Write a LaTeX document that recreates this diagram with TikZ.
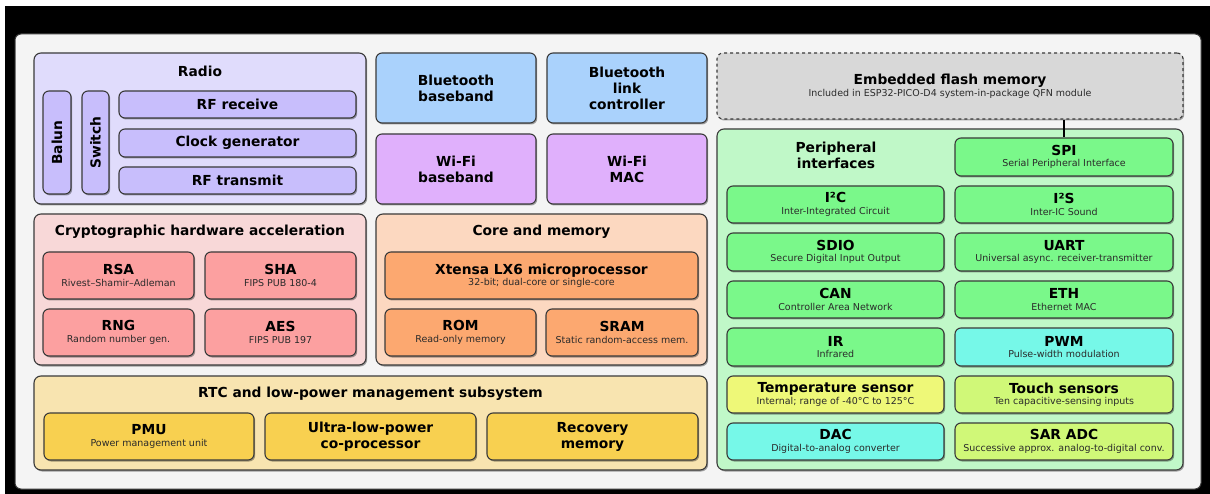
\documentclass[tikz,border=0pt]{standalone}
\usepackage{fontspec}
\setmainfont{DejaVu Sans}
\usetikzlibrary{shadows}
\definecolor{edge}{HTML}{3A3A3A}
\definecolor{subc}{HTML}{2A2A2A}
\definecolor{panel}{HTML}{F4F4F4}
\definecolor{radioO}{HTML}{E0DCFC}
\definecolor{radioI}{HTML}{C8BEFC}
\definecolor{btC}{HTML}{AAD2FC}
\definecolor{wifiC}{HTML}{E0B0FC}
\definecolor{cryO}{HTML}{F8D8D8}
\definecolor{cryI}{HTML}{FCA0A0}
\definecolor{coreO}{HTML}{FCD8C0}
\definecolor{coreI}{HTML}{FCA870}
\definecolor{rtcO}{HTML}{F8E4B0}
\definecolor{rtcI}{HTML}{F8D050}
\definecolor{flashC}{HTML}{D8D8D8}
\definecolor{perO}{HTML}{C0F8C8}
\definecolor{perG}{HTML}{7AF88A}
\definecolor{perC}{HTML}{76F8E8}
\definecolor{perY}{HTML}{EEF878}
\definecolor{perL}{HTML}{D0F878}
\newcommand\ttlf{\fontsize{13.8}{16}\selectfont\bfseries}
\newcommand\subt[1]{\\[-4.5pt]{\fontsize{9.5}{11}\selectfont\mdseries\color{subc}#1}}
\newcommand\bx[7][]{\node[#1, minimum width={#5-#3}, minimum height={#6-#4}] (#2) at ({(#3+#5)/2},{(#4+#6)/2}) {#7};}
\tikzset{
  shd/.style={drop shadow={shadow xshift=1.2pt, shadow yshift=-1.5pt, opacity=.35, fill=black}},
  grp/.style={draw=edge, line width=1.1pt, rounded corners=7pt, shd, inner sep=0pt},
  blk/.style={draw=edge, line width=1.1pt, rounded corners=6pt, shd, inner sep=0pt, align=center, font=\ttlf},
  ttl/.style={inner sep=0pt, align=center, font=\ttlf},
}
\begin{document}
\begin{tikzpicture}[x=1pt, y=-1pt]
\useasboundingbox (0,0) rectangle (1210,494);
\fill[white] (0,0) rectangle (1210,494);
\fill[black] (5,6) rectangle (1210,494);
\bx[draw=edge, line width=1pt, rounded corners=6pt, fill=panel, shd]{panel}{15}{34}{1201}{489}{}
% Radio
\bx[grp, fill=radioO]{radio}{34}{53}{366}{204}{}
\node[ttl] (radiot) at (200,71) {Radio};
\node[blk, fill=radioI, rotate=90, minimum width=103, minimum height=28] (balun) at (57,142.5) {Balun};
\node[blk, fill=radioI, rotate=90, minimum width=103, minimum height=27] (switch) at (95.5,142.5) {Switch};
\bx[blk, fill=radioI]{rfrx}{119}{91}{356}{118}{RF receive}
\bx[blk, fill=radioI]{clk}{119}{129}{356}{157}{Clock generator}
\bx[blk, fill=radioI]{rftx}{119}{167}{356}{194}{RF transmit}
% Bluetooth / WiFi
\bx[blk, fill=btC]{btbb}{376}{53}{536}{123}{Bluetooth\\baseband}
\bx[blk, fill=btC]{btlc}{547}{53}{707}{123}{Bluetooth\\link\\controller}
\bx[blk, fill=wifiC]{wfbb}{376}{134}{536}{204}{Wi-Fi\\baseband}
\bx[blk, fill=wifiC]{wfmac}{547}{134}{707}{204}{Wi-Fi\\MAC}
% Crypto
\bx[grp, fill=cryO]{crypto}{34}{214}{366}{365}{}
\node[ttl] (cryptot) at (200,232) {Cryptographic hardware acceleration};
\bx[blk, fill=cryI]{rsa}{43}{252}{194}{299}{RSA\subt{Rivest–Shamir–Adleman}}
\bx[blk, fill=cryI]{sha}{205}{252}{356}{299}{SHA\subt{FIPS PUB 180-4}}
\bx[blk, fill=cryI]{rng}{43}{309}{194}{356}{RNG\subt{Random number gen.}}
\bx[blk, fill=cryI]{aes}{205}{309}{356}{356}{AES\subt{FIPS PUB 197}}
% Core
\bx[grp, fill=coreO]{core}{376}{214}{707}{365}{}
\node[ttl] (coret) at (541.5,232) {Core and memory};
\bx[blk, fill=coreI]{xtensa}{385}{252}{698}{299}{Xtensa LX6 microprocessor\subt{32-bit; dual-core or single-core}}
\bx[blk, fill=coreI]{rom}{385}{309}{536}{356}{ROM\subt{Read-only memory}}
\bx[blk, fill=coreI]{sram}{546}{309}{698}{356}{SRAM\subt{Static random-access mem.}}
% RTC
\bx[grp, fill=rtcO]{rtc}{34}{376}{707}{470}{}
\node[ttl] (rtct) at (370.5,394) {RTC and low-power management subsystem};
\bx[blk, fill=rtcI]{pmu}{44}{413}{254}{460}{PMU\subt{Power management unit}}
\bx[blk, fill=rtcI]{ulp}{265}{413}{476}{460}{Ultra-low-power\\co-processor}
\bx[blk, fill=rtcI]{rec}{487}{413}{698}{460}{Recovery\\memory}
% Flash
\bx[blk, fill=flashC, dashed]{flash}{717}{53}{1183}{119}{Embedded flash memory\subt{Included in ESP32-PICO-D4 system-in-package QFN module}}
% Peripherals
\bx[grp, fill=perO]{periph}{717}{129}{1183}{470}{}
\node[ttl] (periphert) at (836,155) {Peripheral\\interfaces};
\bx[blk, fill=perG]{spi}{955}{138}{1173}{176}{SPI\subt{Serial Peripheral Interface}}
\bx[blk, fill=perG]{i2c}{727}{186}{944}{223}{I²C\subt{Inter-Integrated Circuit}}
\bx[blk, fill=perG]{i2s}{955}{186}{1173}{223}{I²S\subt{Inter-IC Sound}}
\bx[blk, fill=perG]{sdio}{727}{233}{944}{271}{SDIO\subt{Secure Digital Input Output}}
\bx[blk, fill=perG]{uart}{955}{233}{1173}{271}{UART\subt{Universal async. receiver-transmitter}}
\bx[blk, fill=perG]{can}{727}{281}{944}{318}{CAN\subt{Controller Area Network}}
\bx[blk, fill=perG]{eth}{955}{281}{1173}{318}{ETH\subt{Ethernet MAC}}
\bx[blk, fill=perG]{ir}{727}{328}{944}{366}{IR\subt{Infrared}}
\bx[blk, fill=perC]{pwm}{955}{328}{1173}{366}{PWM\subt{Pulse-width modulation}}
\bx[blk, fill=perY]{temp}{727}{376}{944}{413}{Temperature sensor\subt{Internal; range of -40°C to 125°C}}
\bx[blk, fill=perL]{touch}{955}{376}{1173}{413}{Touch sensors\subt{Ten capacitive-sensing inputs}}
\bx[blk, fill=perC]{dac}{727}{423}{944}{460}{DAC\subt{Digital-to-analog converter}}
\bx[blk, fill=perL]{sar}{955}{423}{1173}{460}{SAR ADC\subt{Successive approx. analog-to-digital conv.}}
\draw[line width=1.8pt, black] (spi.north |- flash.south) -- (spi.north);
\end{tikzpicture}
\end{document}
